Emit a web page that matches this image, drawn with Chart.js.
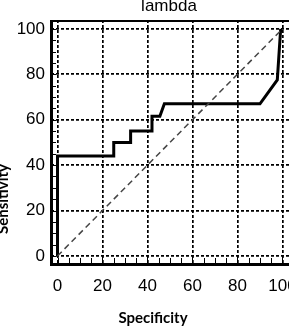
<!DOCTYPE html>
<html>
<head>
<meta charset="utf-8">
<script src="https://cdn.jsdelivr.net/npm/chart.js@4"></script>
<style>
  body { margin: 0; background: #fff; }
  canvas { display: block; }
</style>
</head>
<body>
<canvas id="roc" width="289" height="331"></canvas>
<script>
// ROC curve
const specificity = [0, 0, 25, 25, 32.5, 32.5, 42, 42, 45.5, 47.5, 90, 97.7, 99.2];
const sensitivity = [0, 44, 44, 50, 50, 55, 55, 61.5, 61.5, 67, 67, 77.5, 100];
// chance line
const diagX = [0, 100];
const diagY = [0, 100];
const tickValues = [0, 20, 40, 60, 80, 100];
const minorValues = [0, 5, 10, 15, 20, 25, 30, 35, 40, 45, 50, 55, 60, 65, 70, 75, 80, 85, 90, 95, 100];

const toPoints = (xs, ys) => xs.map((x, i) => ({ x: x, y: ys[i] }));

const frame = {
  id: "frame",
  afterDatasetsDraw(chart) {
    const ctx = chart.ctx;
    const a = chart.chartArea;
    const sx = chart.scales.x;
    const sy = chart.scales.y;
    ctx.save();
    ctx.strokeStyle = "#000";
    // little ticks pointing inside
    ctx.lineWidth = 1;
    minorValues.forEach(v => {
      let px = Math.round(sx.getPixelForValue(v)) + 0.5;
      ctx.beginPath();
      ctx.moveTo(px, a.bottom);
      ctx.lineTo(px, a.bottom - 5);
      ctx.stroke();
      let py = Math.round(sy.getPixelForValue(v)) + 0.5;
      ctx.beginPath();
      ctx.moveTo(a.left, py);
      ctx.lineTo(a.left + 5, py);
      ctx.stroke();
    });
    ctx.lineWidth = 3;
    ctx.beginPath();
    ctx.moveTo(a.left + 0.5, a.top);
    ctx.lineTo(a.left + 0.5, a.bottom + 1.5);
    ctx.lineTo(a.right, a.bottom + 1.5);
    ctx.stroke();
    ctx.lineWidth = 2;
    ctx.beginPath();
    ctx.moveTo(a.left, a.top + 1);
    ctx.lineTo(a.right, a.top + 1);
    ctx.stroke();
    ctx.restore();
  },
  afterDraw(chart) {
    const ctx = chart.ctx;
    ctx.save();
    ctx.fillStyle = "#000";
    ctx.textAlign = "center";
    ctx.textBaseline = "alphabetic";
    ctx.font = "17px 'Liberation Sans', Arial, sans-serif";
    ctx.fillText("lambda", 169, 11);
    ctx.font = "bold 15px Lato, 'Open Sans', sans-serif";
    ctx.fillText("Specificity", 153, 323);
    ctx.translate(8, 199);
    ctx.rotate(-Math.PI / 2);
    ctx.fillText("Sensitivity", 0, 0);
    ctx.restore();
  }
};

const ctx = document.getElementById("roc");
const myChart = new Chart(ctx, {
  type: "scatter",
  data: {
    datasets: [
      {
        label: "chance",
        data: toPoints(diagX, diagY),
        showLine: true,
        borderColor: "#444",
        borderWidth: 1.5,
        borderDash: [6, 4],
        pointRadius: 0,
        fill: false
      },
      {
        label: "lambda",
        data: toPoints(specificity, sensitivity),
        showLine: true,
        borderColor: "#000",
        borderWidth: 3,
        pointRadius: 0,
        tension: 0,
        fill: false
      }
    ]
  },
  options: {
    responsive: false,
    animation: false,
    devicePixelRatio: 1,
    layout: { padding: { top: 20, right: 0, left: 0, bottom: 0 } },
    plugins: { legend: { display: false }, title: { display: false }, tooltip: { enabled: false } },
    scales: {
      x: {
        type: "linear",
        min: -2.89,
        max: 102.9,
        afterBuildTicks: (scale) => { scale.ticks = tickValues.map(v => ({ value: v })); },
        afterFit: (scale) => { scale.height = 68; scale.paddingLeft = 0; scale.paddingRight = 0; },
        grid: { color: "#000", lineWidth: 1.7, drawTicks: false },
        border: { display: false, dash: [3, 2] },
        ticks: {
          padding: 13,
          maxRotation: 0,
          color: "#000",
          font: { family: "'Liberation Sans', Arial, sans-serif", size: 17 }
        }
      },
      y: {
        type: "linear",
        min: -3.1,
        max: 103.9,
        afterBuildTicks: (scale) => { scale.ticks = tickValues.map(v => ({ value: v })); },
        afterFit: (scale) => { scale.width = 51; scale.paddingTop = 0; scale.paddingBottom = 0; },
        grid: { color: "#000", lineWidth: 1.7, drawTicks: false },
        border: { display: false, dash: [3, 2] },
        ticks: {
          padding: 6,
          color: "#000",
          font: { family: "'Liberation Sans', Arial, sans-serif", size: 17 }
        }
      }
    }
  },
  plugins: [frame]
});
</script>
</body>
</html>
